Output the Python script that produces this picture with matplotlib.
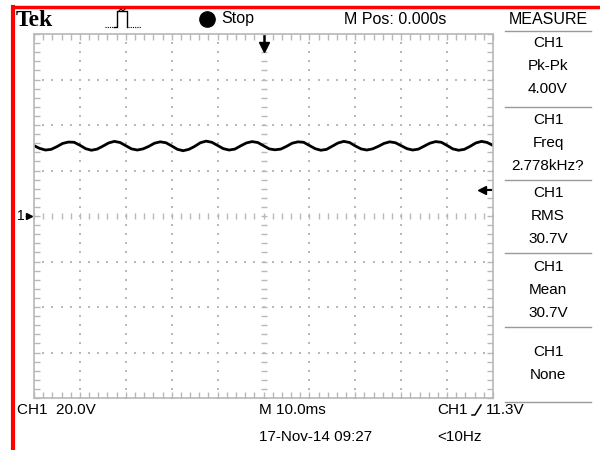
import numpy as np
import matplotlib
matplotlib.use("Agg")
import matplotlib.pyplot as plt
from matplotlib.lines import Line2D

plt.rcParams['font.family'] = ['Liberation Sans', 'DejaVu Sans']

# scope settings
volts_per_div = 20.0
ms_per_div = 10.0
trigger_level = 11.3

# CH1 trace (V), one sample every 1.25 ms from -50 ms to +50 ms
sample_ms = np.arange(-50, 50.01, 1.25)
ch1_volts = [
    30.9, 29.7,
    29.0, 29.3, 30.5, 31.9, 32.5, 32.4, 31.1, 29.6,
    28.9, 29.4, 30.7, 32.1, 32.8, 32.3, 30.9, 29.5,
    29.0, 29.5, 30.6, 32.0, 32.6, 32.2, 30.8, 29.3,
    28.7, 29.3, 30.6, 32.2, 32.9, 32.4, 31.0, 29.6,
    29.0, 29.4, 30.8, 32.1, 32.7, 32.3, 30.9, 29.5,
    29.1, 29.4, 30.6, 32.0, 32.6, 32.4, 31.0, 29.6,
    28.9, 29.3, 30.7, 32.1, 32.8, 32.3, 30.8, 29.5,
    29.0, 29.5, 30.6, 31.9, 32.6, 32.2, 30.9, 29.6,
    29.0, 29.4, 30.7, 32.0, 32.7, 32.4, 31.0, 29.5,
    28.9, 29.3, 30.6, 32.1, 32.8, 32.3, 31.0,
]

# measure panel
measure_sources = ["CH1", "CH1", "CH1", "CH1", "CH1"]
measure_names = ["Pk-Pk", "Freq", "RMS", "Mean", "None"]
measure_values = ["4.00V", "2.778kHz?", "30.7V", "30.7V", ""]

header_text = "M Pos: 0.000s"
footer_left = "CH1  20.0V"
footer_time = "M 10.0ms"
footer_date = "17-Nov-14 09:27"
footer_trig = "11.3V"
footer_freq = "<10Hz"

W, H = 600, 450
fig = plt.figure(figsize=(6, 4.5), dpi=100)
fig.patch.set_facecolor("white")


def fx(x):
    return x / W


def fy(y):
    return 1 - y / H


def fline(xs, ys, **kw):
    fig.add_artist(Line2D([fx(v) for v in xs], [fy(v) for v in ys], transform=fig.transFigure, **kw))


def ftext(x, y, s, **kw):
    kw.setdefault("fontsize", 11)
    kw.setdefault("va", "center")
    fig.text(fx(x), fy(y), s, **kw)


# screen area
left, right, top, bottom = 34, 493, 34, 398
ax = fig.add_axes([fx(left), fy(bottom), (right - left) / W, (bottom - top) / H])
ax.set_xlim(-5 * ms_per_div, 5 * ms_per_div)
ax.set_ylim(-4 * volts_per_div, 4 * volts_per_div)

grid_col = "#b8b8b8"
for sp in ax.spines.values():
    sp.set_color(grid_col)
    sp.set_linewidth(1.2)

ax.set_xticks(np.arange(-5, 6) * ms_per_div)
ax.set_yticks(np.arange(-4, 5) * volts_per_div)
ax.set_xticks(np.arange(-25, 26) * ms_per_div / 5, minor=True)
ax.set_yticks(np.arange(-20, 21) * volts_per_div / 5, minor=True)
ax.tick_params(which="both", direction="in", length=4, width=1, color=grid_col,
               top=True, right=True, labelbottom=False, labelleft=False)

# dotted graticule
xs_minor = np.arange(-25, 26) * ms_per_div / 5
ys_minor = np.arange(-20, 21) * volts_per_div / 5
for d in range(-4, 5):
    if d == 0:
        continue
    xv = d * ms_per_div
    ax.scatter(np.full_like(ys_minor, xv), ys_minor, s=1.3, marker="s", color=grid_col, lw=0)
for d in range(-3, 4):
    if d == 0:
        continue
    yv = d * volts_per_div
    ax.scatter(xs_minor, np.full_like(xs_minor, yv), s=1.3, marker="s", color=grid_col, lw=0)

# centre cross ticks
ax.plot(xs_minor, np.zeros_like(xs_minor), ls="none", marker="|", ms=5, mew=1, color=grid_col)
ax.plot(np.zeros_like(ys_minor), ys_minor, ls="none", marker="_", ms=5, mew=1, color=grid_col)

# trace
ax.plot(sample_ms, ch1_volts, color="black", lw=2.0, solid_joinstyle="miter")

# trigger level arrow (right) and trigger position arrow (top)
ax.plot([4.75 * ms_per_div], [trigger_level], marker="<", ms=6, color="black", clip_on=False)
ax.plot([4.75 * ms_per_div, 4.95 * ms_per_div], [trigger_level, trigger_level], color="black", lw=1.5, clip_on=False)
ax.plot([0], [3.72 * volts_per_div], marker="v", ms=7, color="black", clip_on=False)
ax.plot([0, 0], [3.72 * volts_per_div, 3.95 * volts_per_div], color="black", lw=1.8, clip_on=False)

# ground marker "1"
ftext(17, 216, "1", fontsize=10)
fig.add_artist(Line2D([fx(29)], [fy(216)], marker=">", ms=4, color="black", transform=fig.transFigure))
fline([26, 30], [216, 216], color="black", lw=1)

# red border
fline([13, 600], [7, 7], color="#ff0000", lw=2.5)
fline([13, 13], [7, 450], color="#ff0000", lw=3)

# header
ftext(16, 20, "Tek", fontsize=17, fontweight="bold", family=["Liberation Serif", "DejaVu Serif"])
# acquisition glyph
fline([105, 114], [27, 27], color="black", lw=0.8, ls=(0, (1, 1)))
fline([114, 117, 117, 127, 127], [27, 27, 11, 11, 27], color="black", lw=1)
fline([119, 121, 123, 125], [11, 9, 11, 9], color="black", lw=0.8)
fline([128, 141], [27, 27], color="black", lw=0.8, ls=(0, (1, 1)))
fig.add_artist(Line2D([fx(207)], [fy(19)], marker="o", ms=11, color="black", transform=fig.transFigure))
ftext(221, 19, "Stop", fontsize=11.5)
ftext(395, 19, header_text, fontsize=11.5, ha="center")
ftext(548, 19, "MEASURE", fontsize=11.5, ha="center")

# measure panel
sep_col = "#999999"
for y in [31, 107, 180, 253, 327, 402]:
    fline([505, 591], [y, y], color=sep_col, lw=1)
block_tops = [43, 120, 193, 267, 352]
for i, y0 in enumerate(block_tops):
    ftext(548, y0, measure_sources[i], ha="center")
    ftext(548, y0 + 23, measure_names[i], ha="center")
    if measure_values[i]:
        ftext(548, y0 + 46, measure_values[i], ha="center")

# footer
ftext(17, 410, footer_left)
ftext(259, 410, footer_time)
ftext(259, 437, footer_date)
ftext(437, 410, "CH1")
fline([472, 475, 481], [415, 415, 405], color="black", lw=1.1)
ftext(486, 410, footer_trig)
ftext(437, 437, footer_freq)

fig.savefig("out.png", dpi=100, facecolor="white")
